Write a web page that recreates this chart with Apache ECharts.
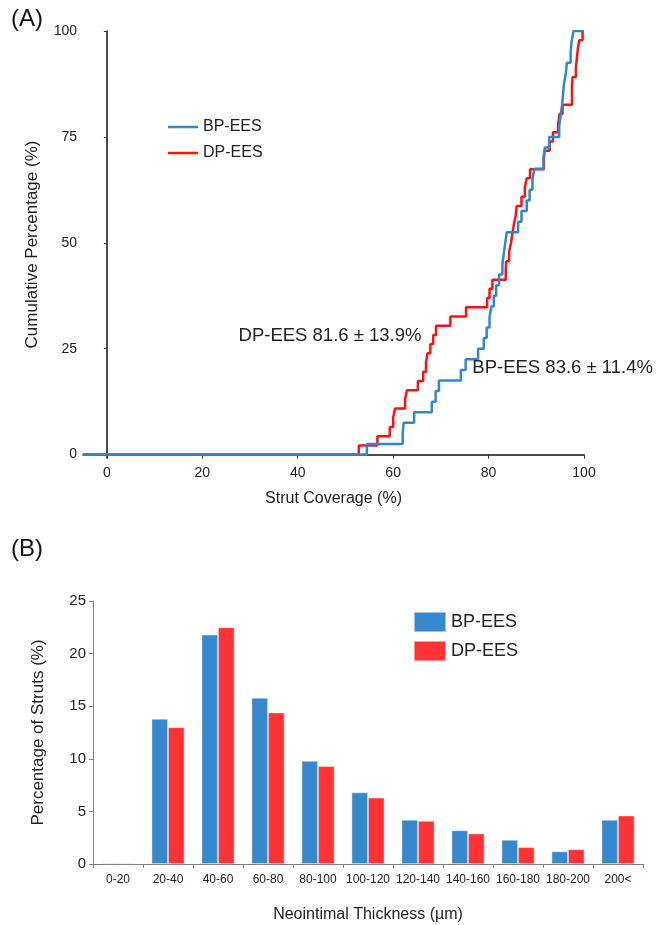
<!DOCTYPE html>
<html>
<head>
<meta charset="utf-8">
<script src="https://cdn.jsdelivr.net/npm/echarts@6/dist/echarts.min.js"></script>
<style>
html,body{margin:0;padding:0;background:#fff;}
#c{width:657px;height:925px;}
</style>
</head>
<body>
<div id="c"></div>
<script>
// ---------- Panel A data: per-case strut coverage (%), sorted ----------
const coverageBP = [54.5, 62.0, 62.2, 64.4, 68.1, 68.9, 69.6, 74.2, 75.2, 77.8,
  79.0, 79.6, 80.2, 80.6, 81.1, 81.6, 82.2, 82.9, 83.2, 83.5,
  83.8, 86.2, 86.9, 88.0, 88.6, 89.2, 89.6, 91.5, 91.8, 92.7,
  94.8, 95.1, 95.4, 95.6, 95.8, 96.2, 96.4, 97.2, 97.4, 97.8];
const coverageDP = [52.8, 56.7, 59.3, 60.0, 60.4, 62.5, 62.9, 65.2, 66.3, 66.9,
  67.2, 67.8, 68.4, 69.0, 72.0, 75.3, 79.7, 80.2, 80.8, 83.6,
  83.7, 84.3, 84.7, 85.0, 85.3, 85.7, 85.9, 86.9, 87.6, 88.0,
  88.7, 91.6, 91.7, 92.8, 93.5, 94.6, 94.9, 95.5, 97.5, 97.5,
  97.6, 98.3, 98.5, 98.7, 99.0, 99.7];
const xTicksA = [0, 20, 40, 60, 80, 100];
const yTicksA = [0, 25, 50, 75, 100];
const labelDP = 'DP-EES 81.6 ± 13.9%';
const labelBP = 'BP-EES 83.6 ± 11.4%';

// ---------- Panel B data ----------
const categories = ['0-20','20-40','40-60','60-80','80-100','100-120','120-140','140-160','160-180','180-200','200<'];
const strutsBP = [0.1, 13.8, 21.8, 15.8, 9.8, 6.8, 4.2, 3.2, 2.3, 1.2, 4.2];
const strutsDP = [0.1, 13.0, 22.5, 14.4, 9.3, 6.3, 4.1, 2.9, 1.6, 1.4, 4.6];

// empirical cumulative distribution from sorted values
function ecdf(vals, xStart, xEnd) {
  const n = vals.length;
  const pts = [[xStart, 0]];
  vals.forEach((v, i) => pts.push([v, (i + 1) / n * 100]));
  pts.push([xEnd, 100]);
  return pts;
}

const blueLine = '#2f87d0', redLine = '#ff1010';
const blueBar = '#3589cc', redBar = '#ff3333';
const txt = '#222';
const ff = 'Liberation Sans, Arial, sans-serif';

const chart = echarts.init(document.getElementById('c'), null, {renderer: 'canvas'});
chart.setOption({
  animation: false,
  backgroundColor: '#fff',
  textStyle: {fontFamily: ff, color: txt},
  grid: [
    {left: 83, top: 31, width: 501, height: 427},
    {left: 93, top: 601, width: 550, height: 263}
  ],
  xAxis: [
    {
      gridIndex: 0, type: 'value', min: -5, max: 100,
      name: 'Strut Coverage (%)', nameLocation: 'middle', nameGap: 33,
      nameTextStyle: {fontSize: 16, color: txt, fontFamily: ff},
      axisLine: {lineStyle: {color: '#111', width: 1.5}},
      axisTick: {show: true, length: 4, customValues: xTicksA, lineStyle: {color: '#333'}},
      axisLabel: {customValues: xTicksA, fontSize: 14, color: txt, margin: 8, fontFamily: ff},
      splitLine: {show: false}
    },
    {
      gridIndex: 1, type: 'category', data: categories,
      name: 'Neointimal Thickness (µm)', nameLocation: 'middle', nameGap: 43,
      nameTextStyle: {fontSize: 16, color: txt, fontFamily: ff},
      axisLine: {lineStyle: {color: '#808080', width: 1}},
      axisTick: {show: true, length: 4, lineStyle: {color: '#808080'}},
      axisLabel: {fontSize: 12, color: txt, margin: 10, interval: 0, fontFamily: ff}
    }
  ],
  yAxis: [
    {
      gridIndex: 0, type: 'value', min: -0.8, max: 100,
      name: 'Cumulative Percentage (%)', nameLocation: 'middle', nameGap: 42,
      nameTextStyle: {fontSize: 17, color: txt, fontFamily: ff},
      axisLine: {show: true, lineStyle: {color: '#111', width: 1.5}},
      axisTick: {show: true, length: 3, customValues: yTicksA, lineStyle: {color: '#333'}},
      axisLabel: {customValues: yTicksA, fontSize: 14, color: txt, margin: 6, fontFamily: ff},
      splitLine: {show: false}
    },
    {
      gridIndex: 1, type: 'value', min: 0, max: 25, interval: 5,
      name: 'Percentage of Struts (%)', nameLocation: 'middle', nameGap: 46,
      nameTextStyle: {fontSize: 17, color: txt, fontFamily: ff},
      axisLine: {show: true, lineStyle: {color: '#808080', width: 1}},
      axisTick: {show: true, length: 4, lineStyle: {color: '#808080'}},
      axisLabel: {fontSize: 15, color: txt, margin: 7, fontFamily: ff},
      splitLine: {show: false}
    }
  ],
  legend: [
    {
      data: [{name: 'BP-EES', icon: 'rect'}, {name: 'DP-EES', icon: 'rect'}],
      orient: 'vertical', left: 163, top: 114,
      itemWidth: 30, itemHeight: 2.5, itemGap: 10, selectedMode: false,
      textStyle: {fontSize: 16, color: txt, fontFamily: ff, lineHeight: 16}
    },
    {
      data: [{name: 'BP-EES ', icon: 'rect'}, {name: 'DP-EES ', icon: 'rect'}],
      orient: 'vertical', left: 408, top: 606,
      itemWidth: 32, itemHeight: 20, itemGap: 7, selectedMode: false,
      textStyle: {fontSize: 18, color: txt, fontFamily: ff}
    }
  ],
  series: [
    {
      name: 'DP-EES', type: 'line', xAxisIndex: 0, yAxisIndex: 0,
      step: 'end', symbol: 'none', color: redLine,
      lineStyle: {color: redLine, width: 2.5},
      data: ecdf(coverageDP, -5, 100),
      markPoint: {
        symbol: 'circle', symbolSize: 0, silent: true,
        label: {show: true, position: 'right', distance: 0, formatter: labelDP,
                fontSize: 18.5, color: txt, fontFamily: ff},
        data: [{coord: [27.6, 28.1]}]
      }
    },
    {
      name: 'BP-EES', type: 'line', xAxisIndex: 0, yAxisIndex: 0,
      step: 'end', symbol: 'none', color: blueLine,
      lineStyle: {color: blueLine, width: 2.5},
      data: ecdf(coverageBP, -5, 100),
      markPoint: {
        symbol: 'circle', symbolSize: 0, silent: true,
        label: {show: true, position: 'right', distance: 0, formatter: labelBP,
                fontSize: 18.5, color: txt, fontFamily: ff},
        data: [{coord: [76.6, 20.5]}]
      }
    },
    {
      name: 'BP-EES ', type: 'bar', xAxisIndex: 1, yAxisIndex: 1,
      data: strutsBP, barWidth: 16.5, barGap: '0%', color: blueBar,
      itemStyle: {color: blueBar, borderColor: 'rgba(255,255,255,0.5)', borderWidth: 0.8}
    },
    {
      name: 'DP-EES ', type: 'bar', xAxisIndex: 1, yAxisIndex: 1,
      data: strutsDP, barWidth: 16.5, barGap: '0%', color: redBar,
      itemStyle: {color: redBar, borderColor: 'rgba(255,255,255,0.5)', borderWidth: 0.8}
    }
  ],
  graphic: [
    {type: 'text', left: 11, top: 7, style: {text: '(A)', fontSize: 24, fill: '#111', fontFamily: ff}},
    {type: 'text', left: 11, top: 537, style: {text: '(B)', fontSize: 24, fill: '#111', fontFamily: ff}}
  ]
});
</script>
</body>
</html>
